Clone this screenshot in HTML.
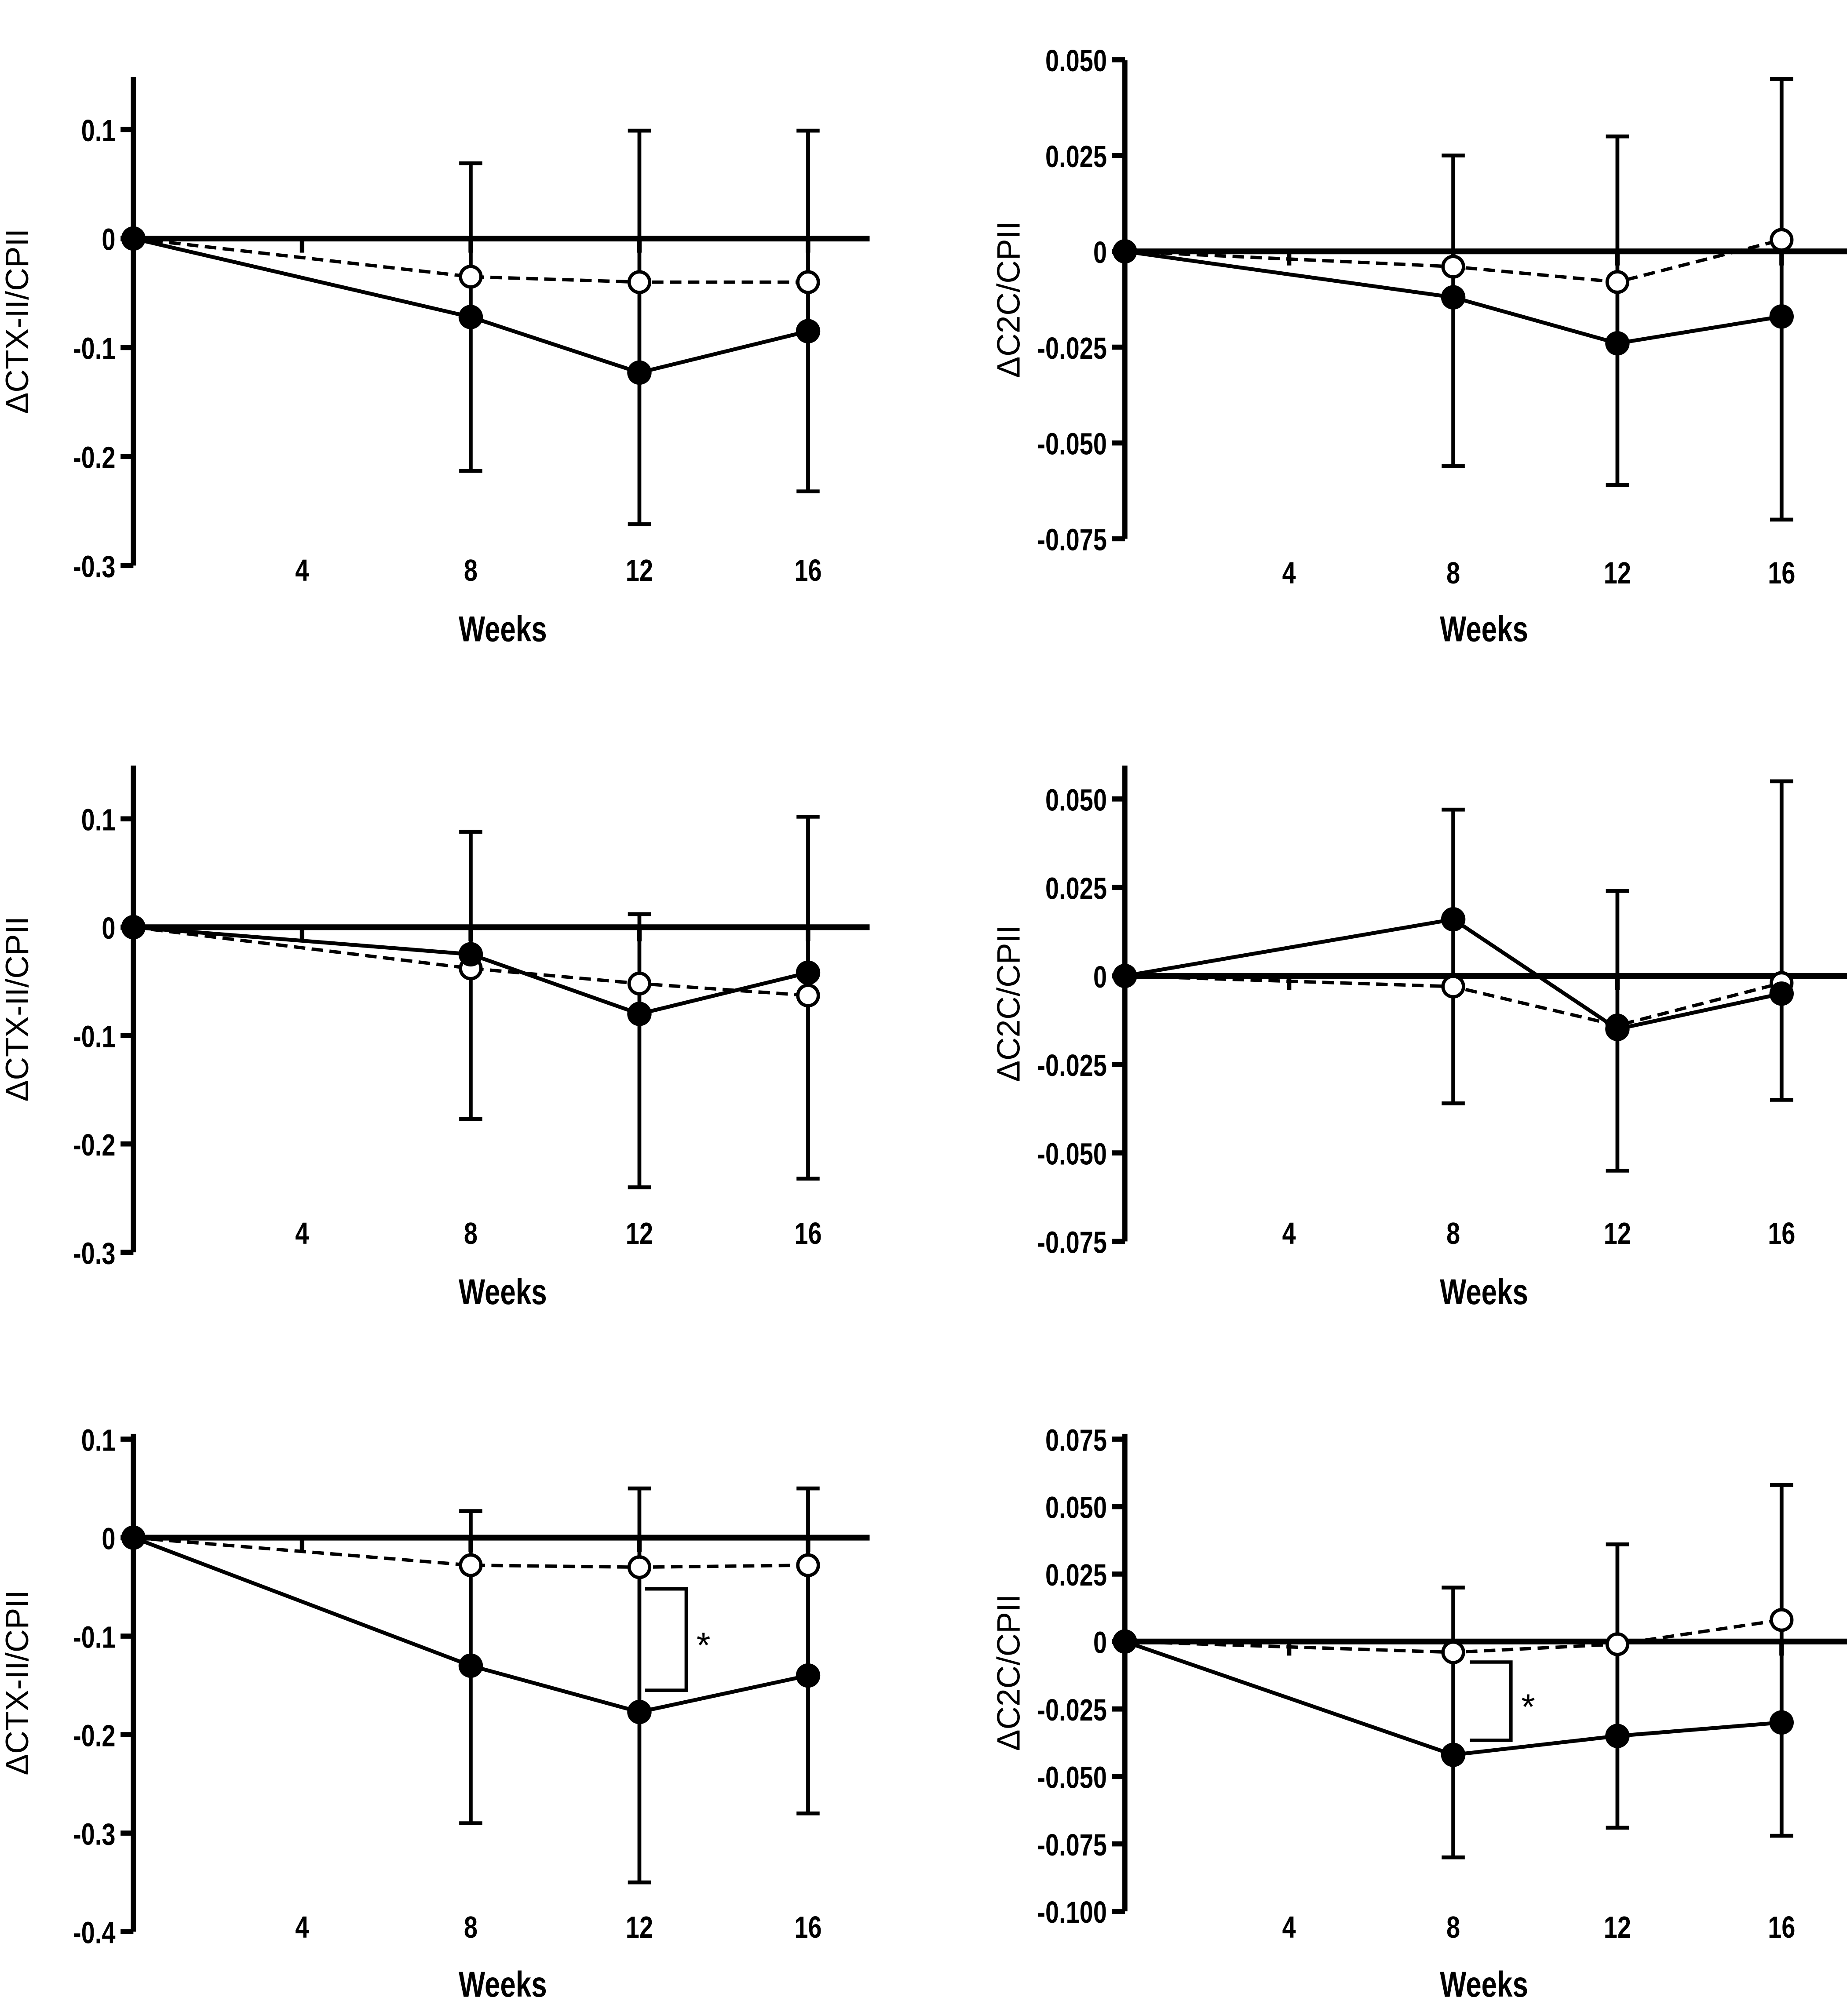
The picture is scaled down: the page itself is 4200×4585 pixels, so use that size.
<!DOCTYPE html>
<html><head><meta charset="utf-8"><style>
html,body{margin:0;padding:0;background:#fff}
svg{display:block}
text{font-family:"Liberation Sans",sans-serif;fill:#000}
.tk{font-weight:bold;font-size:24px}
.wk{font-weight:bold;font-size:28px}
.yt{font-size:25px}
</style></head><body>
<svg id="fig" width="4200" height="4585" viewBox="0 0 1440 1572" xmlns="http://www.w3.org/2000/svg"></svg>
<script>
const weeks = [0, 8, 12, 16];
const xTickLabels = ["4", "8", "12", "16"];
// Panel values
const tlFilled = [0, -0.072, -0.123, -0.085];
const tlOpen = [0, -0.035, -0.040, -0.040];
const tlErrUp = [0, 0.069, 0.099, 0.099];
const tlErrDown = [0, -0.213, -0.262, -0.232];
const tlTicks = ["0.1", "0", "-0.1", "-0.2", "-0.3"];
const tlTickVals = [0.1, 0, -0.1, -0.2, -0.3];

const trFilled = [0, -0.012, -0.024, -0.017];
const trOpen = [0, -0.004, -0.008, 0.003];
const trErrUp = [0, 0.025, 0.030, 0.045];
const trErrDown = [0, -0.056, -0.061, -0.070];
const trTicks = ["0.050", "0.025", "0", "-0.025", "-0.050", "-0.075"];
const trTickVals = [0.05, 0.025, 0, -0.025, -0.05, -0.075];

const mlFilled = [0, -0.025, -0.080, -0.042];
const mlOpen = [0, -0.038, -0.052, -0.063];
const mlErrUp = [0, 0.088, 0.012, 0.102];
const mlErrDown = [0, -0.177, -0.240, -0.232];
const mlTicks = ["0.1", "0", "-0.1", "-0.2", "-0.3"];
const mlTickVals = [0.1, 0, -0.1, -0.2, -0.3];

const mrFilled = [0, 0.016, -0.015, -0.005];
const mrOpen = [0, -0.003, -0.014, -0.002];
const mrErrUp = [0, 0.047, 0.024, 0.055];
const mrErrDown = [0, -0.036, -0.055, -0.035];
const mrTicks = ["0.050", "0.025", "0", "-0.025", "-0.050", "-0.075"];
const mrTickVals = [0.05, 0.025, 0, -0.025, -0.05, -0.075];

const blFilled = [0, -0.130, -0.177, -0.140];
const blOpen = [0, -0.028, -0.030, -0.028];
const blErrUp = [0, 0.027, 0.050, 0.050];
const blErrDown = [0, -0.290, -0.350, -0.280];
const blTicks = ["0.1", "0", "-0.1", "-0.2", "-0.3", "-0.4"];
const blTickVals = [0.1, 0, -0.1, -0.2, -0.3, -0.4];

const brFilled = [0, -0.042, -0.035, -0.030];
const brOpen = [0, -0.004, -0.001, 0.008];
const brErrUp = [0, 0.020, 0.036, 0.058];
const brErrDown = [0, -0.080, -0.069, -0.072];
const brTicks = ["0.075", "0.050", "0.025", "0", "-0.025", "-0.050", "-0.075", "-0.100"];
const brTickVals = [0.075, 0.05, 0.025, 0, -0.025, -0.05, -0.075, -0.1];

const NS = "http://www.w3.org/2000/svg";
const svg = document.getElementById('fig');
function mk(tag, attrs, parent, txt){
  const e = document.createElementNS(NS, tag);
  for (const k in attrs) e.setAttribute(k, attrs[k]);
  if (txt !== undefined) e.textContent = txt;
  (parent || svg).appendChild(e);
  return e;
}

function panel(p){
  const g = mk('g', {});
  
  
  const xs = w => p.x0 + w * p.wk;
  const ys = v => p.y0 - v / p.step * p.ppu;
  const ya = mk('line', {x1:p.x0, y1:p.top, x2:p.x0, y2:ys(p.tickVals[p.tickVals.length-1]), stroke:'#000','stroke-width':4}, g);
  
  
  p.tickVals.forEach((v, i) => {
    mk('line', {x1:p.x0-10, y1:ys(v), x2:p.x0, y2:ys(v), stroke:'#000','stroke-width':4}, g);
    const t = mk('text', {x:p.x0-14, y:ys(v)+9, 'text-anchor':'end', class:'tk', transform:`translate(${p.x0-14},0) scale(0.8,1) translate(${-(p.x0-14)},0)`}, g, p.ticks[i]);
    
    
  });
  const zl = mk('line', {x1:p.x0, y1:p.y0, x2:p.xEnd, y2:p.y0, stroke:'#000','stroke-width':4.5}, g);
  
  
  [4,8,12,16].forEach((w, i) => {
    mk('line', {x1:xs(w), y1:p.y0, x2:xs(w), y2:p.y0+11, stroke:'#000','stroke-width':3.5}, g);
    const t = mk('text', {x:xs(w), y:p.xLabY, 'text-anchor':'middle', class:'tk', transform:`translate(${xs(w)},0) scale(0.8,1) translate(${-xs(w)},0)`}, g, xTickLabels[i]);
    
    
  });
  const wt = mk('text', {x:p.wX, y:p.wY, 'text-anchor':'middle', class:'wk', transform:`translate(${p.wX},0) scale(0.78,1) translate(${-p.wX},0)`}, g, 'Weeks');
  
  
  const cy = (p.top + ys(p.tickVals[p.tickVals.length-1]))/2;
  const yt = mk('text', {x:p.x0-82, y:cy, 'text-anchor':'middle', class:'yt', transform:`rotate(-90 ${p.x0-82} ${cy})`}, g, p.title);
  
  
  weeks.forEach((w, i) => {
    if (i === 0) return;
    const eb = mk('g', {}, g);
    
    
    mk('line', {x1:xs(w), y1:ys(p.up[i]), x2:xs(w), y2:ys(p.down[i]), stroke:'#000','stroke-width':3}, eb);
    mk('line', {x1:xs(w)-9, y1:ys(p.up[i]), x2:xs(w)+9, y2:ys(p.up[i]), stroke:'#000','stroke-width':3}, eb);
    mk('line', {x1:xs(w)-9, y1:ys(p.down[i]), x2:xs(w)+9, y2:ys(p.down[i]), stroke:'#000','stroke-width':3}, eb);
  });
  const op = weeks.map((w,i)=>xs(w)+','+ys(p.open[i])).join(' ');
  const ol = mk('polyline', {points:op, fill:'none', stroke:'#000','stroke-width':2.6,'stroke-dasharray':'9,5'}, g);
  
  
  const fp = weeks.map((w,i)=>xs(w)+','+ys(p.filled[i])).join(' ');
  const fl = mk('polyline', {points:fp, fill:'none', stroke:'#000','stroke-width':3}, g);
  
  
  weeks.forEach((w, i) => {
    const c = mk('circle', {cx:xs(w), cy:ys(p.open[i]), r:8, fill:'#fff', stroke:'#000','stroke-width':2.6}, g);
    
    
  });
  weeks.forEach((w, i) => {
    const c = mk('circle', {cx:xs(w), cy:ys(p.filled[i]), r:9.5, fill:'#000'}, g);
    
    
  });
  if (p.bracket) {
    const b = p.bracket;
    const bg = mk('g', {}, g);
    
    
    mk('polyline', {points:`${b.x1},${b.y1} ${b.x2},${b.y1} ${b.x2},${b.y2} ${b.x1},${b.y2}`, fill:'none', stroke:'#000','stroke-width':2.6}, bg);
    mk('text', {x:b.x2+8, y:(b.y1+b.y2)/2+14, 'font-size':28}, bg, '*');
  }
}

panel({name:'panel-ctx-top', x0:104, wk:131.5/4, y0:186, step:0.1, ppu:85, top:60, xEnd:678, ticks:tlTicks, tickVals:tlTickVals, filled:tlFilled, open:tlOpen, up:tlErrUp, down:tlErrDown, xLabY:453, wX:392, wY:500, title:'\u0394CTX-II/CPII'});
panel({name:'panel-c2c-top', x0:877, wk:128/4, y0:196, step:0.025, ppu:74.7, top:47, xEnd:1440, ticks:trTicks, tickVals:trTickVals, filled:trFilled, open:trOpen, up:trErrUp, down:trErrDown, xLabY:455, wX:1157, wY:500, title:'\u0394C2C/CPII'});
panel({name:'panel-ctx-middle', x0:104, wk:131.5/4, y0:723, step:0.1, ppu:84.5, top:597, xEnd:678, ticks:mlTicks, tickVals:mlTickVals, filled:mlFilled, open:mlOpen, up:mlErrUp, down:mlErrDown, xLabY:970, wX:392, wY:1017, title:'\u0394CTX-II/CPII'});
panel({name:'panel-c2c-middle', x0:877, wk:128/4, y0:761, step:0.025, ppu:69, top:597, xEnd:1440, ticks:mrTicks, tickVals:mrTickVals, filled:mrFilled, open:mrOpen, up:mrErrUp, down:mrErrDown, xLabY:970, wX:1157, wY:1017, title:'\u0394C2C/CPII'});
panel({name:'panel-ctx-bottom', x0:104, wk:131.5/4, y0:1199, step:0.1, ppu:76.8, top:1118, xEnd:678, ticks:blTicks, tickVals:blTickVals, filled:blFilled, open:blOpen, up:blErrUp, down:blErrDown, xLabY:1511, wX:392, wY:1557, title:'\u0394CTX-II/CPII', bracket:{x1:503,x2:535,y1:1239,y2:1318}});
panel({name:'panel-c2c-bottom', x0:877, wk:128/4, y0:1280, step:0.025, ppu:52.6, top:1118, xEnd:1440, ticks:brTicks, tickVals:brTickVals, filled:brFilled, open:brOpen, up:brErrUp, down:brErrDown, xLabY:1511, wX:1157, wY:1557, title:'\u0394C2C/CPII', bracket:{x1:1146,x2:1178,y1:1296,y2:1357}});
</script>
</body></html>
